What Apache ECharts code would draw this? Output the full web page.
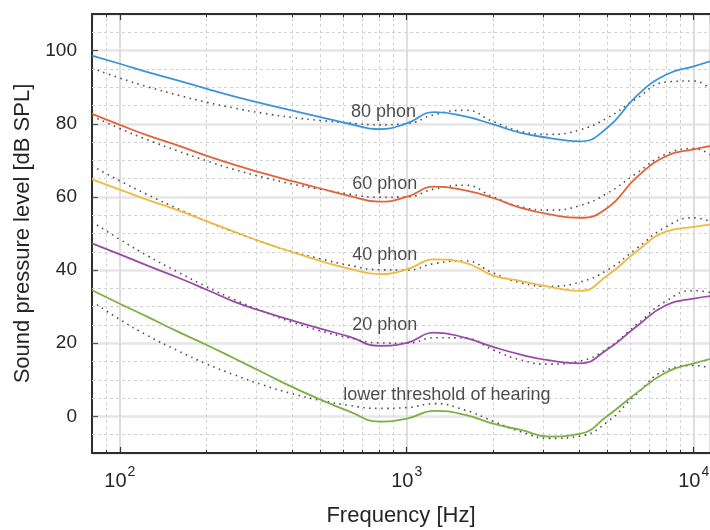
<!DOCTYPE html>
<html>
<head>
    <meta charset="UTF-8">
    <title>Equal-loudness contours</title>
    <script src="https://cdn.jsdelivr.net/npm/echarts@6/dist/echarts.min.js"></script>
    <style>
        html, body { margin: 0; padding: 0; background: #fff; }
        #chart { width: 710px; height: 530px; }
    </style>
</head>
<body>
<div id="chart"></div>
<script>
const freqs = [80, 100, 125, 160, 200, 250, 315, 400, 500, 630, 800, 1000, 1250, 1600, 2000, 2500, 3150, 4000, 5000, 6300, 8000, 10000, 12500];

// solid contours (dB SPL)
const phon80 = [98.6, 96.4, 94.1, 91.8, 89.6, 87.5, 85.5, 83.6, 81.8, 80.0, 78.5, 80.1, 83.2, 82.0, 79.8, 77.5, 76.1, 75.2, 78.9, 87.5, 93.4, 95.7, 98.0];
const phon60 = [82.7, 79.7, 76.8, 74.0, 71.3, 68.8, 66.5, 64.3, 62.3, 60.3, 58.7, 60.0, 62.8, 61.8, 59.7, 57.0, 55.2, 54.3, 57.0, 65.2, 71.1, 73.0, 74.5];
const phon40 = [64.8, 62.0, 59.2, 56.3, 53.4, 50.5, 47.6, 44.9, 42.5, 40.4, 38.9, 40.2, 42.9, 42.0, 38.5, 37.0, 35.4, 34.3, 38.5, 45.0, 50.5, 51.8, 52.8];
const phon20 = [47.3, 44.3, 41.2, 37.9, 34.7, 31.4, 28.7, 26.2, 24.0, 21.8, 19.3, 20.1, 22.9, 21.5, 19.0, 16.9, 15.3, 14.5, 18.3, 24.5, 30.4, 32.2, 33.2];
const phon0  = [34.5, 30.8, 27.2, 23.1, 19.6, 15.9, 12.0, 8.0, 4.6, 1.4, -1.4, -0.6, 1.5, 0.4, -2.0, -3.7, -5.5, -4.8, 0.1, 6.3, 12.0, 14.5, 16.3];

// dotted contours (older curves)
const old80 = [95.2, 92.5, 90.1, 87.8, 85.9, 84.3, 82.9, 81.7, 80.9, 80.2, 79.7, 80.0, 82.5, 83.7, 80.6, 77.9, 77.1, 78.3, 81.6, 86.8, 91.4, 91.7, 85.4];
const old60 = [82.1, 78.7, 75.6, 72.5, 69.9, 67.5, 65.4, 63.5, 62.1, 60.8, 59.9, 60.0, 62.2, 63.2, 60.0, 57.3, 56.4, 57.6, 61.0, 66.4, 71.7, 73.2, 68.6];
const old40 = [68.5, 64.4, 60.6, 56.7, 53.4, 50.4, 47.6, 45.0, 43.1, 41.3, 40.1, 40.0, 41.8, 42.5, 39.2, 36.5, 35.6, 36.7, 40.0, 45.8, 51.8, 54.3, 51.5];
const old20 = [53.2, 48.4, 43.9, 39.4, 35.5, 32.0, 28.7, 25.7, 23.4, 21.5, 20.1, 20.0, 21.5, 21.4, 18.2, 15.4, 14.3, 15.1, 18.6, 25.0, 31.5, 34.4, 33.0];
const old0  = [31.5, 26.5, 22.1, 17.9, 14.4, 11.4, 8.6, 6.2, 4.4, 3.0, 2.2, 2.4, 3.5, 1.7, -1.3, -4.2, -6.0, -5.4, -1.5, 6.0, 12.6, 13.9, 12.3];

// curve annotations
const labelText = ['80 phon', '60 phon', '40 phon', '20 phon', 'lower threshold of hearing'];
const labelFreq = [830, 838, 838, 838, 1380];
const labelLevel = [83.2, 63.5, 44.0, 24.9, 5.9];

// axis ranges / minor grid
const xMin = 80, xMax = 11400;
const yMin = -10, yMax = 110;
const minorFreqs = [];
[10, 100, 1000].forEach(function (d) {
    for (let k = 2; k <= 9; k++) {
        const f = k * d;
        if (f > xMin && f < xMax) minorFreqs.push(f);
    }
});
const minorLevels = [];
for (let v = yMin + 5; v < yMax; v += 5) {
    if (v % 20 !== 0) minorLevels.push(v);
}

const solidColors = ['#3a95d8', '#e4623a', '#f0b93f', '#9a4ba8', '#79b143'];
const solidSets = [phon80, phon60, phon40, phon20, phon0];
const oldSets = [old80, old60, old40, old20, old0];

function pairs(arr) {
    return freqs.map(function (f, i) { return [f, arr[i]]; });
}

const chart = echarts.init(document.getElementById('chart'));
const font = "'Liberation Sans', Arial, sans-serif";

const series = [];

// helper series: minor dashed grid lines and minor ticks
const gridLines = [];
minorFreqs.forEach(function (f) { gridLines.push({ xAxis: f }); });
minorLevels.forEach(function (v) { gridLines.push({ yAxis: v }); });
const tickMarks = [];
minorFreqs.forEach(function (f) {
    tickMarks.push([{ coord: [f, yMin] }, { coord: [f, yMin + 0.9] }]);
    tickMarks.push([{ coord: [f, yMax] }, { coord: [f, yMax - 0.9] }]);
});
series.push({
    type: 'line',
    data: [],
    silent: true,
    markLine: {
        silent: true,
        z: 1,
        symbol: 'none',
        animation: false,
        label: { show: false },
        lineStyle: { color: '#d2d2d2', type: [3, 3], width: 1 },
        data: gridLines
    }
});
series.push({
    type: 'line',
    data: [],
    silent: true,
    markLine: {
        silent: true,
        z: 6,
        symbol: 'none',
        animation: false,
        label: { show: false },
        lineStyle: { color: '#333', type: 'solid', width: 1 },
        data: tickMarks
    }
});

oldSets.forEach(function (arr) {
    series.push({
        type: 'line',
        data: pairs(arr),
        showSymbol: false,
        smooth: 0.5,
        z: 3,
        lineStyle: { color: '#4a4a4a', width: 1.6, type: [1.5, 4.5] }
    });
});
solidSets.forEach(function (arr, i) {
    series.push({
        type: 'line',
        data: pairs(arr),
        showSymbol: false,
        smooth: 0.5,
        z: 4,
        lineStyle: { color: solidColors[i], width: 1.8 }
    });
});
series.push({
    type: 'scatter',
    symbolSize: 0,
    z: 5,
    silent: true,
    data: labelText.map(function (t, i) { return { name: t, value: [labelFreq[i], labelLevel[i]] }; }),
    label: {
        show: true,
        position: 'inside',
        formatter: '{b}',
        fontSize: 18,
        fontFamily: font,
        color: '#1e1e1e'
    }
});

const option = {
    animation: false,
    backgroundColor: '#fff',
    textStyle: { fontFamily: font },
    grid: { left: 92, right: 0, top: 14, bottom: 77, outerBoundsMode: 'none', containLabel: false },
    xAxis: [{
        type: 'log',
        min: xMin,
        max: xMax,
        name: 'Frequency [Hz]',
        nameLocation: 'middle',
        nameGap: 52,
        nameTextStyle: { fontSize: 22, color: '#262626', fontFamily: font },
        axisLine: { show: true, onZero: false, lineStyle: { color: '#2e2e2e', width: 2 } },
        axisTick: { show: true, inside: true, length: 6, lineStyle: { color: '#333', width: 1.2 } },
        splitLine: { show: true, lineStyle: { color: '#dedede', width: 2 } },
        axisLabel: {
            margin: 12,
            showMinLabel: false,
            showMaxLabel: false,
            color: '#262626',
            formatter: function (v) {
                const e = Math.round(Math.log10(v));
                if (Math.abs(Math.log10(v) - e) > 1e-6) return '';
                return '{b|10}{s|' + e + '}';
            },
            rich: {
                b: { fontSize: 20, color: '#262626', fontFamily: font, lineHeight: 26, verticalAlign: 'bottom' },
                s: { fontSize: 14, color: '#262626', fontFamily: font, lineHeight: 14, verticalAlign: 'top', padding: [0, 0, 0, 1] }
            }
        }
    }, {
        type: 'log',
        position: 'top',
        min: xMin,
        max: xMax,
        axisLine: { show: true, onZero: false, lineStyle: { color: '#2e2e2e', width: 2 } },
        axisTick: { show: true, inside: true, length: 6, lineStyle: { color: '#333', width: 1.2 } },
        axisLabel: { show: false },
        splitLine: { show: false }
    }],
    yAxis: {
        type: 'value',
        min: yMin,
        max: yMax,
        splitNumber: 6,
        name: 'Sound pressure level [dB SPL]',
        nameLocation: 'middle',
        nameGap: 58,
        nameTextStyle: { fontSize: 22, color: '#262626', fontFamily: font },
        axisLine: { show: true, lineStyle: { color: '#2e2e2e', width: 2 } },
        axisTick: { show: true, inside: true, length: 6, lineStyle: { color: '#555', width: 1.2 } },
        splitLine: { show: true, lineStyle: { color: '#e6e6e6', width: 2.5 } },
        axisLabel: {
            margin: 15,
            fontSize: 19,
            color: '#262626',
            showMinLabel: false,
            showMaxLabel: false
        }
    },
    series: series
};

chart.setOption(option);
</script>
</body>
</html>
